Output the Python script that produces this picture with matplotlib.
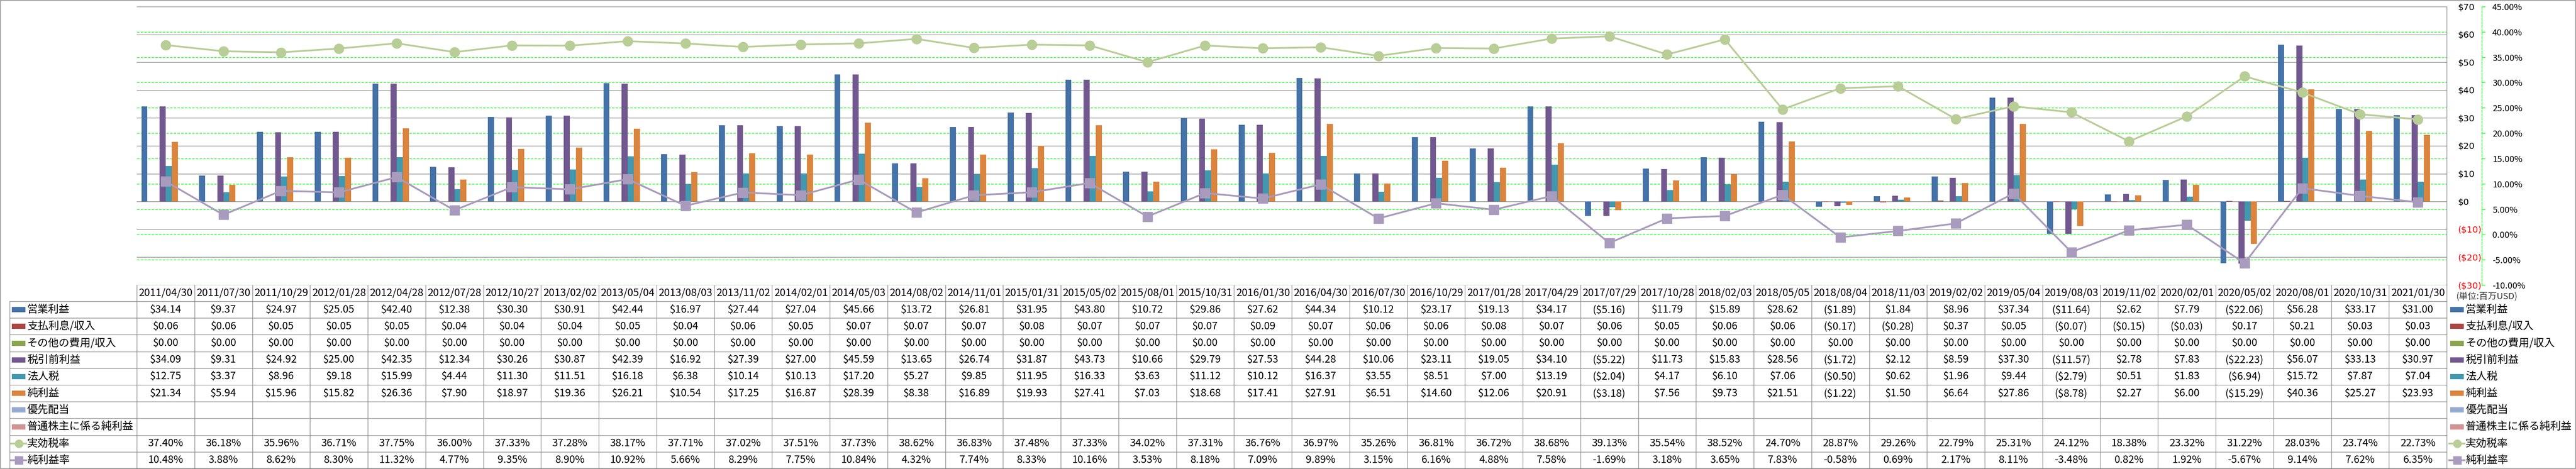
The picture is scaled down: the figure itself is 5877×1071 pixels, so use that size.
import numpy as np
import matplotlib
matplotlib.use('Agg')
import matplotlib.pyplot as plt
from matplotlib.patches import Rectangle
from matplotlib.lines import Line2D

plt.rcParams['font.family'] = ['Noto Sans CJK JP', 'DejaVu Sans']

# ---- data (million USD / percent) ----
dates = ['2011/04/30', '2011/07/30', '2011/10/29', '2012/01/28', '2012/04/28', '2012/07/28',
         '2012/10/27', '2013/02/02', '2013/05/04', '2013/08/03', '2013/11/02', '2014/02/01',
         '2014/05/03', '2014/08/02', '2014/11/01', '2015/01/31', '2015/05/02', '2015/08/01',
         '2015/10/31', '2016/01/30', '2016/04/30', '2016/07/30', '2016/10/29', '2017/01/28',
         '2017/04/29', '2017/07/29', '2017/10/28', '2018/02/03', '2018/05/05', '2018/08/04',
         '2018/11/03', '2019/02/02', '2019/05/04', '2019/08/03', '2019/11/02', '2020/02/01',
         '2020/05/02', '2020/08/01', '2020/10/31', '2021/01/30']

op_income = [34.14, 9.37, 24.97, 25.05, 42.40, 12.38, 30.30, 30.91, 42.44, 16.97,
             27.44, 27.04, 45.66, 13.72, 26.81, 31.95, 43.80, 10.72, 29.86, 27.62,
             44.34, 10.12, 23.17, 19.13, 34.17, -5.16, 11.79, 15.89, 28.62, -1.89,
             1.84, 8.96, 37.34, -11.64, 2.62, 7.79, -22.06, 56.28, 33.17, 31.00]
interest = [0.06, 0.06, 0.05, 0.05, 0.05, 0.04, 0.04, 0.04, 0.05, 0.04,
            0.06, 0.05, 0.07, 0.07, 0.07, 0.08, 0.07, 0.07, 0.07, 0.09,
            0.07, 0.06, 0.06, 0.08, 0.07, 0.06, 0.05, 0.06, 0.06, -0.17,
            -0.28, 0.37, 0.05, -0.07, -0.15, -0.03, 0.17, 0.21, 0.03, 0.03]
other_exp = [0.00, 0.00, 0.00, 0.00, 0.00, 0.00, 0.00, 0.00, 0.00, 0.00,
             0.00, 0.00, 0.00, 0.00, 0.00, 0.00, 0.00, 0.00, 0.00, 0.00,
             0.00, 0.00, 0.00, 0.00, 0.00, 0.00, 0.00, 0.00, 0.00, 0.00,
             0.00, 0.00, 0.00, 0.00, 0.00, 0.00, 0.00, 0.00, 0.00, 0.00]
pretax = [34.09, 9.31, 24.92, 25.00, 42.35, 12.34, 30.26, 30.87, 42.39, 16.92,
          27.39, 27.00, 45.59, 13.65, 26.74, 31.87, 43.73, 10.66, 29.79, 27.53,
          44.28, 10.06, 23.11, 19.05, 34.10, -5.22, 11.73, 15.83, 28.56, -1.72,
          2.12, 8.59, 37.30, -11.57, 2.78, 7.83, -22.23, 56.07, 33.13, 30.97]
income_tax = [12.75, 3.37, 8.96, 9.18, 15.99, 4.44, 11.30, 11.51, 16.18, 6.38,
              10.14, 10.13, 17.20, 5.27, 9.85, 11.95, 16.33, 3.63, 11.12, 10.12,
              16.37, 3.55, 8.51, 7.00, 13.19, -2.04, 4.17, 6.10, 7.06, -0.50,
              0.62, 1.96, 9.44, -2.79, 0.51, 1.83, -6.94, 15.72, 7.87, 7.04]
net_income = [21.34, 5.94, 15.96, 15.82, 26.36, 7.90, 18.97, 19.36, 26.21, 10.54,
              17.25, 16.87, 28.39, 8.38, 16.89, 19.93, 27.41, 7.03, 18.68, 17.41,
              27.91, 6.51, 14.60, 12.06, 20.91, -3.18, 7.56, 9.73, 21.51, -1.22,
              1.50, 6.64, 27.86, -8.78, 2.27, 6.00, -15.29, 40.36, 25.27, 23.93]
preferred_div = []   # no data
common_income = []   # no data
eff_tax_rate = [37.40, 36.18, 35.96, 36.71, 37.75, 36.00, 37.33, 37.28, 38.17, 37.71,
                37.02, 37.51, 37.73, 38.62, 36.83, 37.48, 37.33, 34.02, 37.31, 36.76,
                36.97, 35.26, 36.81, 36.72, 38.68, 39.13, 35.54, 38.52, 24.70, 28.87,
                29.26, 22.79, 25.31, 24.12, 18.38, 23.32, 31.22, 28.03, 23.74, 22.73]
net_margin = [10.48, 3.88, 8.62, 8.30, 11.32, 4.77, 9.35, 8.90, 10.92, 5.66,
              8.29, 7.75, 10.84, 4.32, 7.74, 8.33, 10.16, 3.53, 8.18, 7.09,
              9.89, 3.15, 6.16, 4.88, 7.58, -1.69, 3.18, 3.65, 7.83, -0.58,
              0.69, 2.17, 8.11, -3.48, 0.82, 1.92, -5.67, 9.14, 7.62, 6.35]

bar_names = ['営業利益', '支払利息/収入', 'その他の費用/収入', '税引前利益', '法人税',
             '純利益', '優先配当', '普通株主に係る純利益']
bar_values = [op_income, interest, other_exp, pretax, income_tax, net_income,
              preferred_div, common_income]
bar_colors = ['#4572A7', '#AA4643', '#89A54E', '#71588F', '#4198AF', '#DB843D',
              '#93A9CF', '#D19392']
line_names = ['実効税率', '純利益率']
line_values = [eff_tax_rate, net_margin]
line_colors = ['#B9CD96', '#A99BBD']
line_markers = ['o', 's']

usd_ticks = [-30, -20, -10, 0, 10, 20, 30, 40, 50, 60, 70]
pct_ticks = [-10, -5, 0, 5, 10, 15, 20, 25, 30, 35, 40, 45]

# ---- layout (pixels) ----
W, H = 5877, 1071
PX = 0.72  # points per pixel at dpi 100
plot_l, plot_r, plot_t, plot_b = 312, 5582, 15, 651
row_top, row_h = 688, 38.2
grid_gray = '#868686'
lime = '#00FF00'


def fmt_usd(v):
    return '(${:.2f})'.format(-v) if v < 0 else '${:.2f}'.format(v)


def fmt_usd_tick(v):
    return '(${:d})'.format(-v) if v < 0 else '${:d}'.format(v)


fig = plt.figure(figsize=(W / 100, H / 100), dpi=100)

tab = fig.add_axes([0, 0, 1, 1])
tab.set_xlim(0, W)
tab.set_ylim(H, 0)
tab.axis('off')

ax = fig.add_axes([plot_l / W, 1 - plot_b / H, (plot_r - plot_l) / W, (plot_b - plot_t) / H])
n = len(dates)
x = np.arange(n)
ax.set_xlim(-0.5, n - 0.5)
ax.set_ylim(-30, 70)

bw = 0.105
for k, (vals, col) in enumerate(zip(bar_values, bar_colors)):
    if len(vals) == 0:
        continue
    ax.bar(x - 4 * bw + (k + 0.5) * bw, vals, width=bw, color=col, zorder=2)

ax.set_axisbelow(True)
ax.set_xticks([])
ax.yaxis.grid(True, color=grid_gray, lw=1.3 * PX, zorder=0.5)

# secondary gridlines (drawn on primary axes so bars cover them)
for p in pct_ticks[:-1]:
    ax.axhline(-30 + (p + 10) * 100 / 55, color=lime, lw=1.4 * PX, ls=(0, (4, 2)), zorder=0.6)

ax2 = ax.twinx()
ax2.set_ylim(-10, 45)
for vals, col, mk in zip(line_values, line_colors, line_markers):
    ax2.plot(x, vals, color=col, lw=4 * PX, marker=mk, ms=16, mfc=col, mec=col, zorder=3)

# primary axis: labels on the right, next to the plot
ax.yaxis.tick_right()
ax.set_yticks(usd_ticks)
ax.set_yticklabels([fmt_usd_tick(t) for t in usd_ticks])
ax.tick_params(axis='y', which='both', left=False, right=False, labelleft=False,
               labelright=True, length=0, pad=25 * PX, labelsize=14.5)
for lab, t in zip(ax.get_yticklabels(), usd_ticks):
    lab.set_fontfamily('DejaVu Sans')
    lab.set_color('red' if t < 0 else 'black')
for sp in ['left', 'top', 'bottom']:
    ax.spines[sp].set_visible(False)
ax.spines['right'].set_color(grid_gray)
ax.spines['right'].set_linewidth(1.3 * PX)

# secondary axis: dashed green spine further right
ax2.set_yticks(pct_ticks)
ax2.set_yticklabels(['{:.2f}%'.format(t) for t in pct_ticks])
for lab, t in zip(ax2.get_yticklabels(), pct_ticks):
    lab.set_fontfamily('DejaVu Sans')
    lab.set_color('red' if t < 0 else 'black')
ax2.spines['right'].set_position(('outward', 80 * PX))
ax2.spines['right'].set_color(lime)
ax2.spines['right'].set_linestyle((0, (4, 2)))
ax2.spines['right'].set_linewidth(1.4 * PX)
for sp in ['left', 'top', 'bottom']:
    ax2.spines[sp].set_visible(False)
ax2.tick_params(axis='y', direction='out', length=8 * PX, color=lime, width=1.4 * PX,
                pad=16 * PX, labelsize=14.5)

# ---- data table ----
colw = (plot_r - plot_l) / n
row_names = bar_names + line_names
row_texts = [[fmt_usd(v) for v in vals] if len(vals) else [''] * n for vals in bar_values]
row_texts += [['{:.2f}%'.format(v) for v in vals] for vals in line_values]
nrows = len(row_names)
tab_bot = row_top + nrows * row_h
lw_tab = 1.4 * PX
tcol = '#8C8C8C'

tab.plot([plot_l, plot_r], [plot_b - 1, plot_b - 1], color=tcol, lw=lw_tab)
for r in range(nrows + 1):
    yy = row_top + r * row_h
    tab.plot([22, plot_r], [yy, yy], color=tcol, lw=lw_tab)
tab.plot([22, 22], [row_top, tab_bot], color=tcol, lw=lw_tab)
for i in range(n + 1):
    xx = plot_l + i * colw
    tab.plot([xx, xx], [plot_b - 1, tab_bot], color=tcol, lw=lw_tab)

for i, d in enumerate(dates):
    tab.text(plot_l + (i + 0.5) * colw, (plot_b + row_top) / 2, d,
             ha='center', va='center', fontsize=17)
for r, (name, texts) in enumerate(zip(row_names, row_texts)):
    yc = row_top + (r + 0.5) * row_h
    for i, s in enumerate(texts):
        tab.text(plot_l + (i + 0.5) * colw, yc, s, ha='center', va='center', fontsize=17)


def legend_key(x0, yc, r):
    if r < len(bar_colors):
        tab.add_patch(Rectangle((x0, yc - 6), 31, 12, color=bar_colors[r], lw=0))
    else:
        c = line_colors[r - len(bar_colors)]
        tab.add_line(Line2D([x0 - 2, x0 + 33], [yc, yc], color=c, lw=4 * PX))
        tab.plot([x0 + 15.5], [yc], marker=line_markers[r - len(bar_colors)], ms=13,
                 color=c, mec=c)


for r, name in enumerate(row_names):
    yc = row_top + (r + 0.5) * row_h
    legend_key(27, yc, r)
    tab.text(62, yc, name, ha='left', va='center', fontsize=17.5)
    legend_key(5590, yc, r)
    tab.text(5625, yc, name, ha='left', va='center', fontsize=17.5)

tab.text(5603, 678, '(単位:百万USD)', ha='left', va='center', fontsize=14.5, color='#333333')

# chart border
tab.add_patch(Rectangle((1, 1), W - 2, H - 2, fill=False, ec='#888888', lw=1.5 * PX))

fig.savefig('out.png', dpi=100)
